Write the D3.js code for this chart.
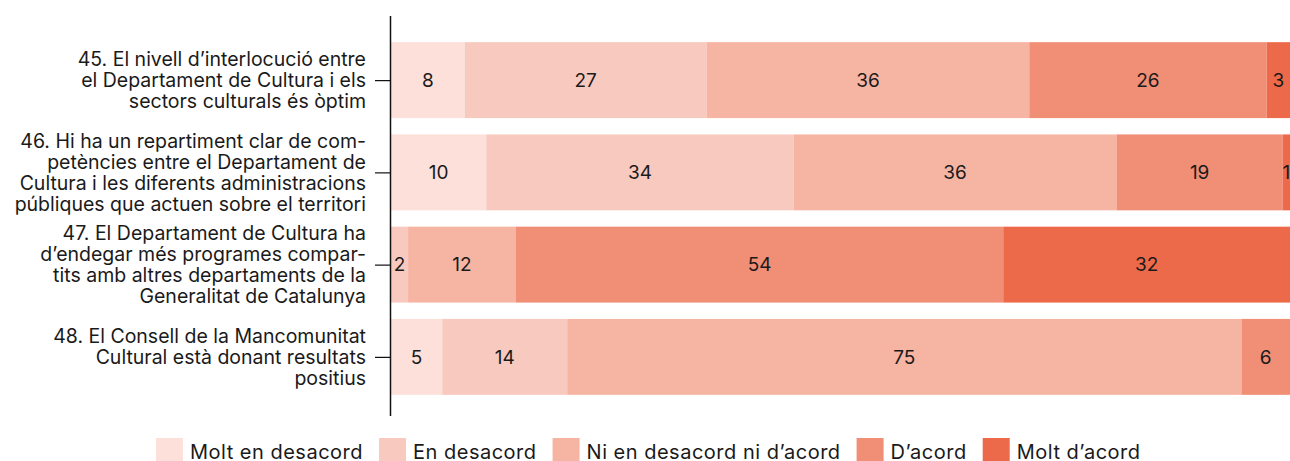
<!DOCTYPE html>
<html>
<head>
<meta charset="utf-8">
<script src="https://cdn.jsdelivr.net/npm/d3@7"></script>
<style>
  html, body { margin: 0; padding: 0; background: #fff; }
  svg { display: block; font-family: Inter, Roboto, "Noto Sans", sans-serif; }
</style>
</head>
<body>
<svg id="chart" width="1290" height="461"></svg>
<script>
// ---- data ----
const categories = [
  ["45. El nivell d\u2019interlocució entre", "el Departament de Cultura i els", "sectors culturals és òptim"],
  ["46. Hi ha un repartiment clar de com-", "petències entre el Departament de", "Cultura i les diferents administracions", "públiques que actuen sobre el territori"],
  ["47. El Departament de Cultura ha", "d\u2019endegar més programes compar-", "tits amb altres departaments de la", "Generalitat de Catalunya"],
  ["48. El Consell de la Mancomunitat", "Cultural està donant resultats", "positius"]
];
const seriesNames = ["Molt en desacord", "En desacord", "Ni en desacord ni d\u2019acord", "D\u2019acord", "Molt d\u2019acord"];
// shares (%) per category, per series (as measured from bar lengths)
const molt_en_desacord = [8.2, 10.6, 0, 5.7];
const en_desacord      = [26.9, 34.2, 1.9, 13.9];
const ni_ni            = [35.9, 35.9, 12.0, 75.0];
const d_acord          = [26.4, 18.5, 54.2, 5.4];
const molt_d_acord     = [2.6, 0.8, 31.9, 0];
// printed labels
const labels = [
  [8, 27, 36, 26, 3],
  [10, 34, 36, 19, 1],
  [null, 2, 12, 54, 32],
  [5, 14, 75, 6, null]
];
const colors = ["#fce0d9", "#f8c9bf", "#f6b4a3", "#f08e76", "#ec6a4a"];

// ---- layout ----
const svg = d3.select("#chart");
const x0 = 391, x1 = 1290;
const series = [molt_en_desacord, en_desacord, ni_ni, d_acord, molt_d_acord];

const x = d3.scaleLinear().domain([0, 100]).range([x0, x1]);
const y = d3.scaleBand().domain(d3.range(categories.length))
  .range([34, 403]).paddingInner(0.177).paddingOuter(0.0885);

const rows = categories.map((c, i) => {
  let acc = 0;
  return series.map((s, j) => {
    const seg = { row: i, k: j, start: acc, value: s[i], label: labels[i][j] };
    acc += s[i];
    return seg;
  });
});

const g = svg.append("g");
rows.forEach(r => {
  const grp = g.append("g");
  grp.selectAll("rect").data(r.filter(d => d.value > 0)).join("rect")
    .attr("x", d => x(d.start))
    .attr("y", d => y(d.row))
    .attr("width", d => x(d.start + d.value) - x(d.start))
    .attr("height", y.bandwidth())
    .attr("fill", d => colors[d.k]);
  grp.selectAll("text").data(r.filter(d => d.label != null && d.value > 0)).join("text")
    .attr("x", d => (x(d.start) + x(d.start + d.value)) / 2)
    .attr("y", d => y(d.row) + y.bandwidth() / 2)
    .attr("dy", "0.36em")
    .attr("text-anchor", "middle")
    .attr("font-size", 19)
    .attr("fill", "#1a1a1a")
    .text(d => d.label);
});

// axis
const yAxis = svg.append("g");
yAxis.append("line")
  .attr("x1", 390.5).attr("x2", 390.5).attr("y1", 16).attr("y2", 416)
  .attr("stroke", "#111").attr("stroke-width", 1.5);
yAxis.selectAll("line.tick").data(d3.range(categories.length)).join("line")
  .attr("class", "tick")
  .attr("x1", 375).attr("x2", 390)
  .attr("y1", d => y(d) + y.bandwidth() / 2 + 0.5)
  .attr("y2", d => y(d) + y.bandwidth() / 2 + 0.5)
  .attr("stroke", "#111").attr("stroke-width", 1.2);

const lh = 21;
categories.forEach((lines, i) => {
  const cy = y(i) + y.bandwidth() / 2;
  const t = yAxis.append("text")
    .attr("text-anchor", "end")
    .attr("font-size", 19.5)
    .attr("fill", "#1a1a1a");
  lines.forEach((ln, k) => {
    t.append("tspan")
      .attr("x", 366)
      .attr("y", cy + (k - (lines.length - 1) / 2) * lh)
      .attr("dy", "0.36em")
      .text(ln);
  });
});

// legend
const leg = svg.append("g");
const sw = 27, gapT = 7, gapItem = 16, legY = 438;
let cx = 156;
seriesNames.forEach((n, i) => {
  const it = leg.append("g").attr("transform", `translate(${cx},0)`);
  it.append("rect").attr("x", 0).attr("y", legY).attr("width", sw).attr("height", 24).attr("fill", colors[i]);
  const tx = it.append("text").attr("x", sw + gapT).attr("y", legY + 20.5)
    .attr("font-size", 20).attr("letter-spacing", 0.5).attr("fill", "#1a1a1a").text(n);
  const w = tx.node().getComputedTextLength();
  cx += sw + gapT + w + gapItem;
});
</script>
</body>
</html>
